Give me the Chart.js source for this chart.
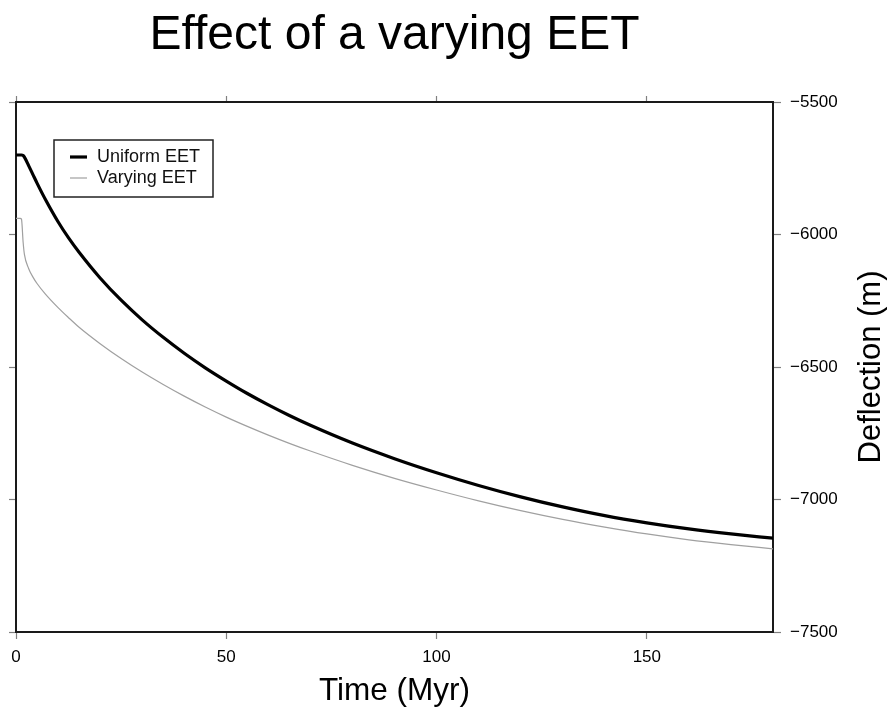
<!DOCTYPE html>
<html>
<head>
<meta charset="utf-8">
<script src="https://cdn.jsdelivr.net/npm/chart.js@4.4.1/dist/chart.umd.min.js"></script>
<style>
  html, body { margin: 0; padding: 0; background: #fff; }
  canvas { display: block; }
</style>
</head>
<body>
<canvas id="c" width="894" height="715"></canvas>
<script>
// ---- data ----
const chartTitle = "Effect of a varying EET";
const xAxisTitle = "Time (Myr)";
const yAxisTitle = "Deflection (m)";
const seriesNames = ["Uniform EET", "Varying EET"];
const times = [0, 1, 1.3, 1.7, 2, 3, 4, 5, 7, 10, 12.5, 15, 20, 25, 30, 35, 40, 45, 50, 55, 60, 65, 70, 80, 90, 100, 110, 120, 130, 140, 150, 160, 170, 180];
const uniformEET = [-5700, -5700, -5700, -5702, -5708, -5740, -5773, -5806, -5868, -5952, -6013, -6067, -6164, -6248, -6322, -6388, -6448, -6503, -6553, -6600, -6643, -6683, -6720, -6787, -6846, -6899, -6947, -6990, -7028, -7061, -7088, -7111, -7130, -7146];
const varyingEET = [-5939, -5939, -5942, -6030, -6075, -6128, -6160, -6185, -6225, -6276, -6314, -6350, -6412, -6468, -6519, -6566, -6610, -6651, -6689, -6724, -6757, -6788, -6817, -6871, -6920, -6964, -7005, -7042, -7075, -7104, -7130, -7152, -7170, -7186];
const xTicks = [0, 50, 100, 150];
const yTicks = [-7500, -7000, -6500, -6000, -5500];
const xRange = [0, 180];
const yRange = [-7500, -5500];

// ---- chart ----
const FONT = "'Liberation Sans', Arial, Helvetica, sans-serif";
const toPts = (vals) => times.map((t, i) => ({ x: t, y: vals[i] }));
const fmt = (v) => String(v).replace('-', '\u2212');

const legendPlugin = {
  id: 'insideLegend',
  afterDatasetsDraw(chart) {
    const ctx = chart.ctx;
    const a = chart.chartArea;
    const x0 = a.left + 38, y0 = a.top + 38, w = 159, h = 57;
    ctx.save();
    ctx.fillStyle = '#fff';
    ctx.fillRect(x0, y0, w, h);
    ctx.strokeStyle = '#222';
    ctx.lineWidth = 1.5;
    ctx.strokeRect(x0, y0, w, h);
    ctx.font = '18px ' + FONT;
    ctx.textBaseline = 'middle';
    ctx.textAlign = 'left';
    chart.data.datasets.forEach((ds, i) => {
      const yy = y0 + 17 + i * 21;
      ctx.beginPath();
      ctx.strokeStyle = ds.borderColor;
      ctx.lineWidth = ds.borderWidth;
      ctx.moveTo(x0 + 16, yy);
      ctx.lineTo(x0 + 33, yy);
      ctx.stroke();
      ctx.fillStyle = '#111';
      ctx.fillText(ds.label, x0 + 43, yy + 0.5);
    });
    ctx.restore();
  }
};

const yTitlePlugin = {
  id: 'yTitle',
  afterDraw(chart) {
    const ctx = chart.ctx;
    const a = chart.chartArea;
    ctx.save();
    ctx.translate(871, (a.top + a.bottom) / 2);
    ctx.rotate(-Math.PI / 2);
    ctx.font = '31px ' + FONT;
    ctx.fillStyle = '#000';
    ctx.textAlign = 'center';
    ctx.textBaseline = 'middle';
    ctx.fillText(yAxisTitle, 0, 0);
    ctx.restore();
  }
};

const tickGrid = (len) => ({
  display: true,
  drawOnChartArea: false,
  drawTicks: true,
  tickLength: len,
  tickColor: '#808080',
  tickWidth: 1.2
});
const border = { display: true, color: '#1a1a1a', width: 2 };

new Chart(document.getElementById('c'), {
  type: 'line',
  data: {
    datasets: [
      {
        label: seriesNames[0],
        data: toPts(uniformEET),
        borderColor: '#000',
        borderWidth: 3.2,
        pointRadius: 0,
        cubicInterpolationMode: 'monotone',
        fill: false,
        xAxisID: 'x',
        yAxisID: 'y'
      },
      {
        label: seriesNames[1],
        data: toPts(varyingEET),
        borderColor: '#a0a0a0',
        borderWidth: 1.2,
        pointRadius: 0,
        cubicInterpolationMode: 'monotone',
        fill: false,
        xAxisID: 'x',
        yAxisID: 'y'
      }
    ]
  },
  options: {
    responsive: false,
    animation: false,
    devicePixelRatio: 1,
    layout: { padding: 0 },
    plugins: {
      legend: { display: false },
      tooltip: { enabled: false },
      title: {
        display: true,
        text: chartTitle,
        fullSize: false,
        color: '#000',
        font: { family: FONT, size: 48, weight: 'normal' },
        padding: { top: 6.5, bottom: 31.9 }
      }
    },
    scales: {
      x: {
        type: 'linear',
        position: 'bottom',
        min: xRange[0], max: xRange[1],
        afterBuildTicks: (s) => { s.ticks = xTicks.map(v => ({ value: v })); },
        afterFit: (s) => { s.height = 83; },
        ticks: { color: '#000', font: { family: FONT, size: 17 }, padding: 8, maxRotation: 0, callback: fmt },
        grid: tickGrid(7),
        border: border,
        title: { display: true, text: xAxisTitle, color: '#000', font: { family: FONT, size: 31.5 }, padding: { top: 0, bottom: 5 } }
      },
      xTop: {
        type: 'linear',
        position: 'top',
        min: xRange[0], max: xRange[1],
        afterBuildTicks: (s) => { s.ticks = xTicks.map(v => ({ value: v })); },
        afterFit: (s) => { s.height = 6; },
        ticks: { display: false },
        grid: tickGrid(6),
        border: border
      },
      y: {
        type: 'linear',
        position: 'right',
        min: yRange[0], max: yRange[1],
        afterBuildTicks: (s) => { s.ticks = yTicks.map(v => ({ value: v })); },
        afterFit: (s) => { s.width = 121; },
        ticks: { color: '#000', font: { family: FONT, size: 17 }, padding: 9, callback: fmt },
        grid: tickGrid(8),
        border: border
      },
      yLeft: {
        type: 'linear',
        position: 'left',
        min: yRange[0], max: yRange[1],
        afterBuildTicks: (s) => { s.ticks = yTicks.map(v => ({ value: v })); },
        afterFit: (s) => { s.width = 16; },
        ticks: { display: false },
        grid: tickGrid(7),
        border: border
      }
    }
  },
  plugins: [legendPlugin, yTitlePlugin]
});
</script>
</body>
</html>
